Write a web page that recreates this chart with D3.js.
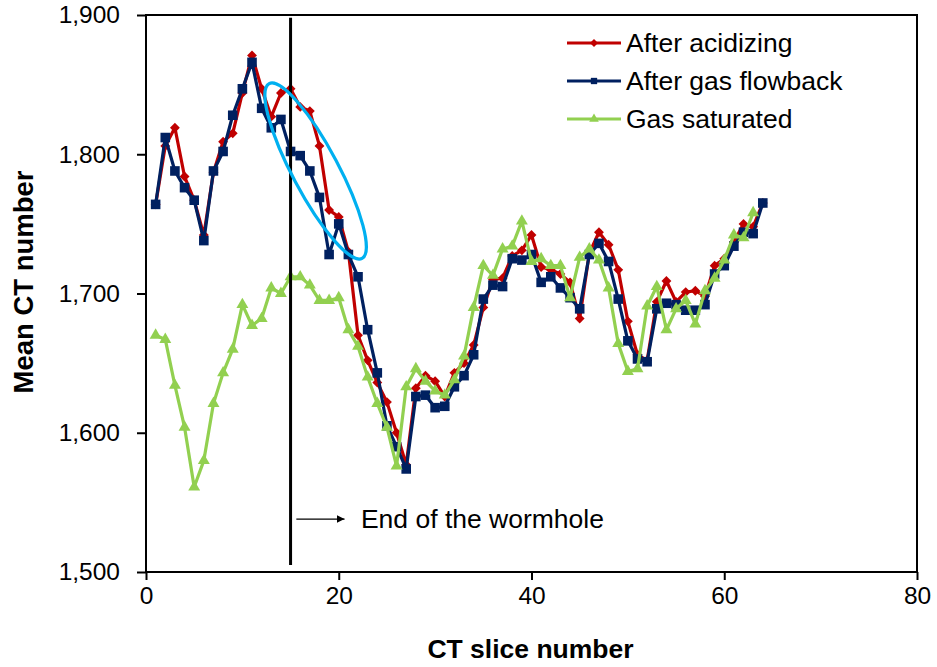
<!DOCTYPE html>
<html>
<head>
<meta charset="utf-8">
<script src="https://cdn.jsdelivr.net/npm/d3@7/dist/d3.min.js"></script>
<style>
  html, body { margin: 0; padding: 0; background: #fff; }
  svg { display: block; font-family: "Liberation Sans", Arial, sans-serif; }
</style>
</head>
<body>
<svg id="chart" width="937" height="667"></svg>
<script>
// CT slice numbers 1..64
const slices = d3.range(1, 65);

const afterAcidizing = [
  1764, 1806, 1819, 1784, 1767, 1742, 1787, 1809, 1815, 1844,
  1871, 1847, 1827, 1844, 1847, 1834, 1831, 1806, 1760, 1755,
  1730, 1670, 1652, 1636, 1622, 1600, 1577, 1632, 1641, 1637,
  1626, 1643, 1650, 1663, 1690, 1710, 1711, 1727, 1731, 1742,
  1719, 1717, 1714, 1708, 1682, 1729, 1744, 1735, 1717, 1680,
  1656, 1652, 1694, 1709, 1694, 1701, 1702, 1698, 1720, 1725,
  1737, 1750, 1748, 1765
];

const afterGasFlowback = [
  1764, 1812, 1788, 1776, 1767, 1738, 1788, 1802, 1828, 1847,
  1866, 1833, 1819, 1825, 1802, 1799, 1788, 1769, 1728, 1750,
  1728, 1712, 1674, 1643, 1605, 1590, 1574, 1626, 1627, 1618,
  1619, 1633, 1641, 1656, 1696, 1706, 1705, 1725, 1724, 1728,
  1708, 1712, 1704, 1697, 1689, 1728, 1736, 1723, 1696, 1666,
  1653, 1651, 1689, 1693, 1692, 1688, 1688, 1692, 1714, 1720,
  1734, 1744, 1743, 1765
];

// gas saturated scan covers slices 1..63
const gasSaturated = [
  1670, 1667, 1634, 1604, 1561, 1580, 1621, 1643, 1660, 1692,
  1677, 1682, 1704, 1700, 1712, 1712, 1706, 1695, 1695, 1697,
  1674, 1662, 1640, 1621, 1604, 1576, 1633, 1646, 1637, 1630,
  1627, 1638, 1655, 1690, 1720, 1713, 1732, 1734, 1752, 1723,
  1725, 1720, 1720, 1697, 1726, 1732, 1724, 1704, 1664, 1644,
  1646, 1691, 1705, 1674, 1689, 1695, 1678, 1702, 1711, 1724,
  1742, 1740, 1758
];

const seriesNames = ["After acidizing", "After gas flowback", "Gas saturated"];
const xTicks = [0, 20, 40, 60, 80];
const yTicks = [1500, 1600, 1700, 1800, 1900];
const xTitle = "CT slice number";
const yTitle = "Mean CT number";

// wormhole end marker and annotation
const wormholeEndSlice = 15;
const wormholeLineRange = [1505, 1898];
const wormholeArrow = { x0: 15.6, x1: 20.6, y: 1538 };
const wormholeLabel = { x: 22.3, y: 1538, text: "End of the wormhole" };
// highlight ellipse around the divergence after the wormhole end
const highlight = { cx: 17.6, cy: 1788 };

const colors = ["#C00000", "#002060", "#92D050"];

const svg = d3.select("#chart");
const plotLeft = 146, plotRight = 917, plotTop = 15, plotBottom = 572;

const x = d3.scaleLinear().domain([0, 80]).range([plotLeft, plotRight]);
const y = d3.scaleLinear().domain([1500, 1900]).range([plotBottom, plotTop]);

// axes
const fmt = d3.format(",");
const yAxis = svg.append("g")
  .attr("transform", `translate(${plotLeft},0)`)
  .call(d3.axisLeft(y).tickValues(yTicks).tickFormat(fmt).tickSize(9).tickPadding(17).tickSizeOuter(0));
const xAxis = svg.append("g")
  .attr("transform", `translate(0,${plotBottom})`)
  .call(d3.axisBottom(x).tickValues(xTicks).tickFormat(d3.format("d")).tickSize(8).tickPadding(7).tickSizeOuter(0));

[xAxis, yAxis].forEach(g => {
  g.select(".domain").remove();
  g.selectAll(".tick line").attr("stroke", "#000").attr("stroke-width", 2);
  g.selectAll(".tick text").attr("fill", "#000").style("font-size", "24.5px")
    .style("font-family", "'Liberation Sans', Arial, sans-serif");
});

// plot frame
svg.append("rect")
  .attr("x", plotLeft).attr("y", plotTop)
  .attr("width", plotRight - plotLeft).attr("height", plotBottom - plotTop)
  .attr("fill", "none").attr("stroke", "#000").attr("stroke-width", 2);

// axis titles
svg.append("text")
  .attr("x", (plotLeft + plotRight) / 2 - 1).attr("y", 658)
  .attr("text-anchor", "middle")
  .style("font-size", "26.5px").style("font-weight", "bold")
  .text(xTitle);

svg.append("text")
  .attr("transform", `translate(33,${282}) rotate(-90)`)
  .attr("text-anchor", "middle")
  .style("font-size", "27.5px").style("font-weight", "bold")
  .text(yTitle);

// series
const seriesData = [afterAcidizing, afterGasFlowback, gasSaturated];
const line = d3.line().x(d => x(d[0])).y(d => y(d[1]));

const symbolTypes = [d3.symbolDiamond2, d3.symbolSquare, d3.symbolTriangle];
const symbolSizes = [62, 92, 62];

seriesData.forEach((vals, i) => {
  const pts = vals.map((v, j) => [slices[j], v]);
  const g = svg.append("g");
  g.append("path")
    .datum(pts)
    .attr("d", line)
    .attr("fill", "none")
    .attr("stroke", colors[i])
    .attr("stroke-width", 3.2)
    .attr("stroke-linejoin", "round");
  g.selectAll("path.m")
    .data(pts)
    .join("path")
    .attr("class", "m")
    .attr("d", d3.symbol().type(symbolTypes[i]).size(symbolSizes[i]))
    .attr("transform", d => `translate(${x(d[0])},${y(d[1])})`)
    .attr("fill", colors[i]);
});

// wormhole end line
svg.append("line")
  .attr("x1", x(wormholeEndSlice)).attr("x2", x(wormholeEndSlice))
  .attr("y1", y(wormholeLineRange[1])).attr("y2", y(wormholeLineRange[0]))
  .attr("stroke", "#000").attr("stroke-width", 3);

// highlight ellipse
svg.append("ellipse")
  .attr("transform", `translate(${x(highlight.cx)},${y(highlight.cy)}) rotate(62)`)
  .attr("rx", 99).attr("ry", 23)
  .attr("fill", "none").attr("stroke", "#00B0F0").attr("stroke-width", 3.2);

// arrow annotation
svg.append("defs").append("marker")
  .attr("id", "arrowhead")
  .attr("viewBox", "0 0 10 10")
  .attr("refX", 10).attr("refY", 5)
  .attr("markerWidth", 8).attr("markerHeight", 8)
  .attr("markerUnits", "userSpaceOnUse")
  .attr("orient", "auto")
  .append("path")
  .attr("d", "M0,0 L10,5 L0,10 Z")
  .attr("fill", "#000");

svg.append("line")
  .attr("x1", x(wormholeArrow.x0)).attr("x2", x(wormholeArrow.x1))
  .attr("y1", y(wormholeArrow.y)).attr("y2", y(wormholeArrow.y))
  .attr("stroke", "#000").attr("stroke-width", 1.3)
  .attr("marker-end", "url(#arrowhead)");

svg.append("text")
  .attr("x", x(wormholeLabel.x)).attr("y", y(wormholeLabel.y))
  .attr("dy", "0.35em")
  .style("font-size", "26.5px")
  .text(wormholeLabel.text);

// legend
const legend = svg.append("g").attr("transform", "translate(567,43)");
seriesNames.forEach((name, i) => {
  const row = legend.append("g").attr("transform", `translate(0,${i * 38})`);
  row.append("line")
    .attr("x1", 0).attr("x2", 54).attr("y1", 0).attr("y2", 0)
    .attr("stroke", colors[i]).attr("stroke-width", 3.2);
  row.append("path")
    .attr("d", d3.symbol().type(symbolTypes[i]).size(40))
    .attr("transform", "translate(27,0)")
    .attr("fill", colors[i]);
  row.append("text")
    .attr("x", 59).attr("y", 0).attr("dy", "0.35em")
    .style("font-size", "26.5px")
    .text(name);
});
</script>
</body>
</html>
